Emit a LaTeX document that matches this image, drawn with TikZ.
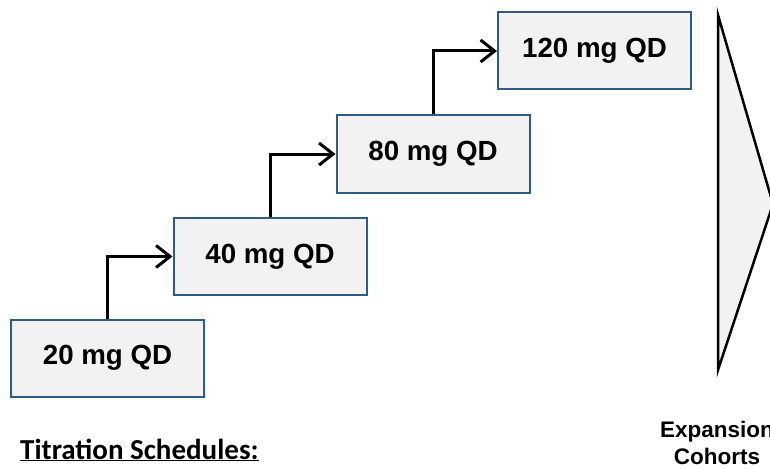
\documentclass[tikz,border=0pt]{standalone}
\usepackage{fontspec}
\setmainfont{Liberation Sans}
\newfontfamily\calibfont{Carlito}
\usetikzlibrary{arrows.meta}
\definecolor{boxfill}{HTML}{F2F2F2}
\definecolor{boxline}{HTML}{2F5C85}
\begin{document}
\begin{tikzpicture}[x=1pt,y=-1pt,
  dosebox/.style={draw=boxline,line width=2pt,fill=boxfill,minimum width=193pt,minimum height=77pt,inner sep=0pt,font=\fontsize{27.7}{33}\selectfont\bfseries},
  steparrow/.style={draw=black,line width=3pt,-{Straight Barb[length=14pt,width=22pt,line width=3pt]}}]
\useasboundingbox (0,0) rectangle (770,468);
\node[dosebox] (b1) at (107.5,358) {20 mg QD};
\node[dosebox] (b2) at (270,256.5) {40 mg QD};
\node[dosebox] (b3) at (433,154) {80 mg QD};
\node[dosebox] (b4) at (594.5,51) {120 mg QD};
\draw[steparrow] (b1.north) |- (b2.west);
\draw[steparrow] (b2.north) |- (b3.west);
\draw[steparrow] (b3.north) |- (b4.west);
\coordinate (ttop) at (718,15);
\coordinate (tbot) at (718,370);
\coordinate (tapex) at (773,204);
\begin{scope}
\clip (0,0) rectangle (770,468);
\draw[line width=2.5pt,fill=boxfill,line join=miter] (ttop) -- (tapex) -- (tbot) -- cycle;
\node[align=center,font=\fontsize{22.5}{27}\selectfont\bfseries,inner sep=0pt,anchor=base] (exp) at (717,464) {Expansion\\Cohorts};
\end{scope}
\node[font=\calibfont\fontsize{29}{34}\selectfont\bfseries,inner sep=0pt,anchor=base west] (tit) at (20,459) {\underline{Titration Schedules:}};
\end{tikzpicture}
\end{document}
